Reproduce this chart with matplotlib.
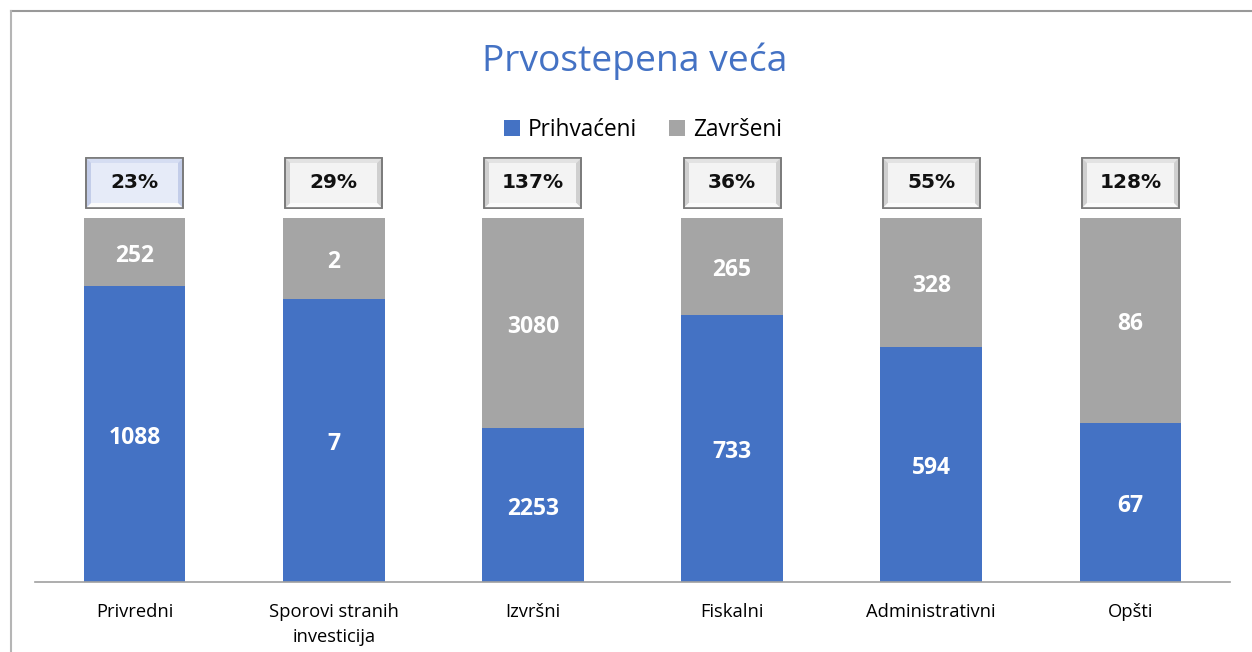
import matplotlib
matplotlib.use("Agg")
import matplotlib.pyplot as plt
from matplotlib.patches import Rectangle, Polygon
import numpy as np

categories = ["Privredni", "Sporovi stranih\ninvesticija", "Izvršni", "Fiskalni", "Administrativni", "Opšti"]
prihvaceni = [1088, 7, 2253, 733, 594, 67]
zavrseni = [252, 2, 3080, 265, 328, 86]
series_names = ["Prihvaćeni", "Završeni"]
title = "Prvostepena veća"

blue = "#4472C4"
grey = "#A5A5A5"

W, H = 1252, 652
fig = plt.figure(figsize=(W / 100, H / 100), dpi=100)

# axes: x from 35 to 1230 px, y from 582 (bottom) to 218 (top)
ax = fig.add_axes([35 / W, 1 - 582 / H, (1230 - 35) / W, (582 - 218) / H])

p = np.array(prihvaceni, float)
z = np.array(zavrseni, float)
tot = p + z
pf = p / tot
zf = z / tot
x = np.arange(len(categories))
bw = 0.51

ax.bar(x, pf, bw, color=blue, label=series_names[0], zorder=2)
ax.bar(x, zf, bw, bottom=pf, color=grey, label=series_names[1], zorder=2)

lab_font = dict(fontsize=16.5, fontweight="bold", color="white", family="Open Sans")
for i in range(len(x)):
    ax.annotate(f"{prihvaceni[i]}", (x[i], pf[i] / 2), xytext=(0, -2.5), textcoords="offset points",
                ha="center", va="center", **lab_font)
    ax.annotate(f"{zavrseni[i]}", (x[i], pf[i] + zf[i] / 2), xytext=(0, -2.5), textcoords="offset points",
                ha="center", va="center", **lab_font)

ax.set_xlim(-0.5, len(categories) - 0.5)
ax.set_ylim(0, 1)
ax.set_yticks([])
ax.set_xticks(x)
ax.set_xticklabels(categories, fontsize=13.2, family="Open Sans", color="#000000", linespacing=1.5)
ax.tick_params(axis="x", length=0, pad=15)
for s in ["top", "right", "left"]:
    ax.spines[s].set_visible(False)
ax.spines["bottom"].set_color("#A0A0A0")
ax.spines["bottom"].set_linewidth(1.2)

# ratio boxes
px_y = 1 / 364.0
px_x = 1 / 199.2
bh = 50 * px_y
bwid = 97 * px_x
cy = 1 + 35 * px_y
inset_x = 5 * px_x
inset_y = 5 * px_y
for i in range(len(x)):
    ratio = zavrseni[i] / prihvaceni[i] * 100
    if i == 0:
        outer, inner, top_c = "#c3cde9", "#e6ebf8", "#d5ddf2"
    else:
        outer, inner, top_c = "#cfcfcf", "#f3f3f3", "#e2e2e2"
    x0, x1 = x[i] - bwid / 2, x[i] + bwid / 2
    y0, y1 = cy - bh / 2, cy + bh / 2
    ax.add_patch(Rectangle((x0, y0), bwid, bh, facecolor=outer, edgecolor="#7a7a7a",
                           linewidth=1.2, clip_on=False, zorder=3))
    # bevel: lighter bottom band
    ax.add_patch(Polygon([(x0, y0), (x1, y0), (x1 - inset_x, y0 + inset_y), (x0 + inset_x, y0 + inset_y)],
                         closed=True, facecolor="#fbfbfb", edgecolor="none", clip_on=False, zorder=3))
    ax.add_patch(Polygon([(x0, y1), (x1, y1), (x1 - inset_x, y1 - inset_y), (x0 + inset_x, y1 - inset_y)],
                         closed=True, facecolor=top_c, edgecolor="none", clip_on=False, zorder=3))
    ax.add_patch(Rectangle((x0 + inset_x, y0 + inset_y), bwid - 2 * inset_x, bh - 2 * inset_y,
                           facecolor=inner, edgecolor="none", clip_on=False, zorder=3))
    ax.add_patch(Rectangle((x0, y0), bwid, bh, facecolor="none", edgecolor="#7a7a7a",
                           linewidth=1.2, clip_on=False, zorder=4))
    ax.text(x[i], cy, f"{ratio:.0f}%", ha="center", va="center", fontsize=14.5,
            fontweight="bold", color="#111111", family="DejaVu Sans", zorder=5, clip_on=False)

# title
fig.text(635 / W, 1 - 61 / H, title, ha="center", va="center", fontsize=26.8,
         color=blue, family="Open Sans")

# legend
leg = fig.legend(loc="center", bbox_to_anchor=(643 / W, 1 - 130 / H), ncol=2, frameon=False,
                 prop=dict(family="Open Sans", size=16.3), handlelength=0.7, handleheight=0.7,
                 handletextpad=0.35, columnspacing=1.4)

# outer frame (top and left)
fig.add_artist(plt.Line2D([11 / W, 1], [1 - 11 / H, 1 - 11 / H], color="#999999", lw=1.5,
                          transform=fig.transFigure))
fig.add_artist(plt.Line2D([11 / W, 11 / W], [0, 1 - 11 / H], color="#b5b5b5", lw=1.5,
                          transform=fig.transFigure))

fig.savefig("out.png", dpi=100)
